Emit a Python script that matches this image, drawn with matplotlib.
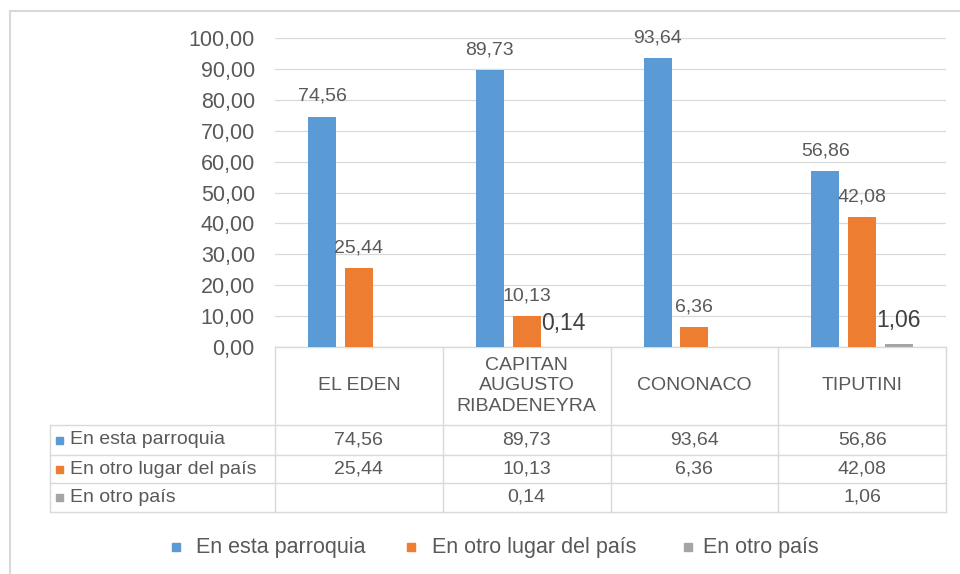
import matplotlib
matplotlib.use("Agg")
import matplotlib.pyplot as plt
import numpy as np
from matplotlib.patches import Rectangle

plt.rcParams['font.family'] = ['Liberation Sans', 'DejaVu Sans']

categories = ["EL EDEN", "CAPITAN\nAUGUSTO\nRIBADENEYRA", "CONONACO", "TIPUTINI"]
series_names = ["En esta parroquia", "En otro lugar del país", "En otro país"]
en_esta_parroquia = [74.56, 89.73, 93.64, 56.86]
en_otro_lugar = [25.44, 10.13, 6.36, 42.08]
en_otro_pais = [None, 0.14, None, 1.06]
yticks = [0, 10, 20, 30, 40, 50, 60, 70, 80, 90, 100]

colors = ["#5B9BD5", "#ED7D31", "#A5A5A5"]
txt = "#595959"
grid_c = "#D9D9D9"

W, H = 960, 574
fig = plt.figure(figsize=(W / 100, H / 100), dpi=100)

# pixel-coordinate overlay
ov = fig.add_axes([0, 0, 1, 1], zorder=0)
ov.set_xlim(0, W)
ov.set_ylim(H, 0)
ov.axis("off")

# chart axes
x0, x1, ytop, ybot = 275, 946, 38, 347
ax = fig.add_axes([x0 / W, 1 - ybot / H, (x1 - x0) / W, (ybot - ytop) / H], zorder=2)
ax.patch.set_alpha(0)
ax.set_xlim(-0.5, 3.5)
ax.set_ylim(0, 100)
ax.set_yticks(yticks)
ax.set_yticklabels([f"{v:.2f}".replace(".", ",") for v in yticks], fontsize=15.5, color=txt)
ax.tick_params(axis="y", length=0, pad=14.5)
ax.set_xticks([])
for s in ax.spines.values():
    s.set_visible(False)
ax.grid(axis="y", color=grid_c, linewidth=0.9)
ax.set_axisbelow(True)

xs = np.arange(len(categories))
step, width = 0.219, 0.167
all_series = [en_esta_parroquia, en_otro_lugar, en_otro_pais]
for k, (vals, col) in enumerate(zip(all_series, colors)):
    for i, v in enumerate(vals):
        if v is None:
            continue
        xp = xs[i] + (k - 1) * step
        ax.bar(xp, v, width=width, color=col, zorder=3)
        lab = f"{v:.2f}".replace(".", ",")
        if k < 2:
            ax.annotate(lab, (xp, v), xytext=(0, 14.5), textcoords="offset points",
                        ha="center", va="center", fontsize=14, color=txt, zorder=4)
        else:
            ax.annotate(lab, (xp, v), xytext=(0, 16.5), textcoords="offset points",
                        ha="center", va="center", fontsize=16.5, color="#404040", zorder=4)

# outer frame (top and left)
ov.plot([10, W], [11, 11], color="#D9D9D9", lw=1.5)
ov.plot([10, 10], [11, H], color="#D9D9D9", lw=1.5)

# table
col_edges = [x0 + (x1 - x0) * j / 4 for j in range(5)]
tl = 50
rows_y = [347, 425, 455, 483, 512]
lc = "#D9D9D9"
ov.plot([x0, x1], [rows_y[0], rows_y[0]], color=lc, lw=1)
for xe in col_edges:
    ov.plot([xe, xe], [rows_y[0], rows_y[-1]], color=lc, lw=1)
for yy in rows_y[1:]:
    ov.plot([tl, x1], [yy, yy], color=lc, lw=1)
ov.plot([tl, tl], [rows_y[1], rows_y[-1]], color=lc, lw=1)

for i, c in enumerate(categories):
    cx = (col_edges[i] + col_edges[i + 1]) / 2
    ov.text(cx, (rows_y[0] + rows_y[1]) / 2, c, ha="center", va="center",
            linespacing=1.3, fontsize=14, color=txt)

for r, (name, vals, col) in enumerate(zip(series_names, all_series, colors)):
    cy = (rows_y[r + 1] + rows_y[r + 2]) / 2
    ov.add_patch(Rectangle((56, cy - 3.5), 7, 7, color=col))
    ov.text(70, cy, name, ha="left", va="center", fontsize=14, color=txt)
    for i, v in enumerate(vals):
        if v is None:
            continue
        cx = (col_edges[i] + col_edges[i + 1]) / 2
        ov.text(cx, cy, f"{v:.2f}".replace(".", ","), ha="center", va="center",
                fontsize=14, color=txt)

# legend
leg_y = 547
leg_items = [(176, 196, series_names[0]), (411, 432, series_names[1]), (688, 703, series_names[2])]
for (sx, tx, name), col in zip(leg_items, colors):
    ov.add_patch(Rectangle((sx - 4, leg_y - 4), 8, 8, color=col))
    ov.text(tx, leg_y, name, ha="left", va="center", fontsize=15.5, color=txt)

fig.savefig("out.png", dpi=100)
